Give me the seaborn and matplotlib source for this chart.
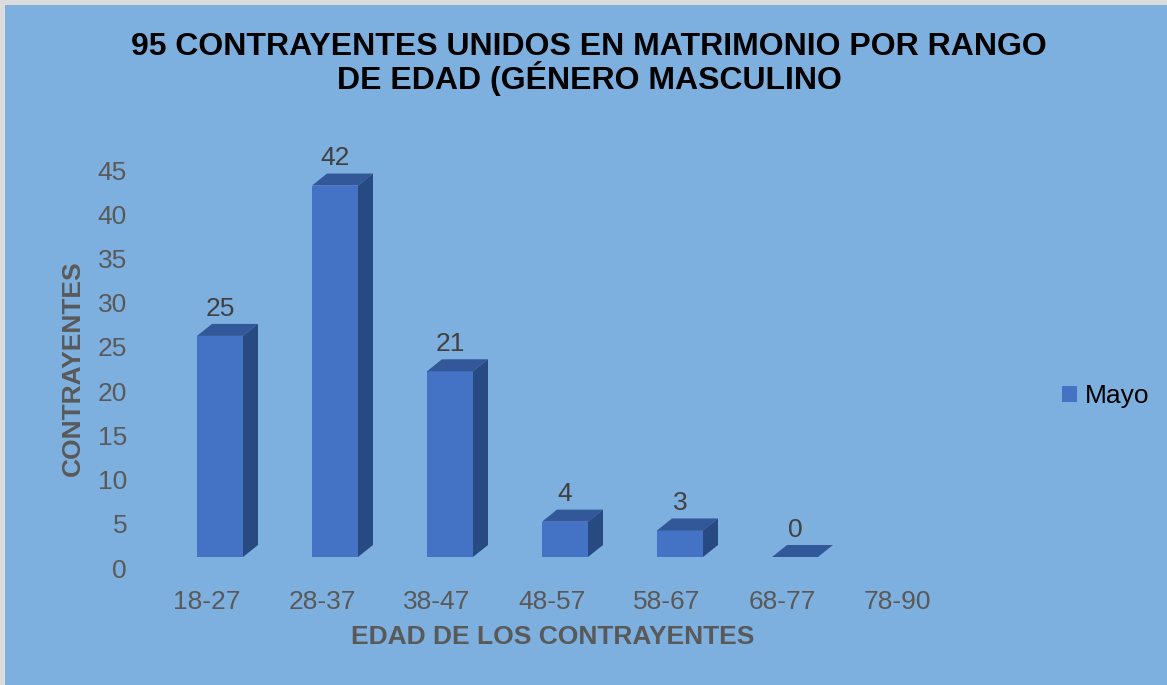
import numpy as np
import pandas as pd
import matplotlib
matplotlib.use("Agg")
import matplotlib.pyplot as plt
import matplotlib.transforms as mtransforms
from matplotlib.patches import Polygon, Rectangle
import seaborn as sns

# =============================================
# Data
rangos = ['18-27', '28-37', '38-47', '48-57', '58-67', '68-77', '78-90']
contrayentes = [25, 42, 21, 4, 3, 0, np.nan]  # 78-90 has no bar
serie = 'Mayo'

titulo = '95 CONTRAYENTES UNIDOS EN MATRIMONIO POR RANGO\nDE EDAD (GÉNERO MASCULINO'
ylabel_txt = 'CONTRAYENTES'
xlabel_txt = 'EDAD DE LOS CONTRAYENTES'
yticks = list(range(0, 50, 5))

# =============================================
# Styling
bg = '#7EB0DF'
front_col = '#4472C4'
top_col = '#33589A'
side_col = '#284A82'
tick_col = '#595959'
lab_col = '#404040'
fontSize = 19

sns.set_theme(style='white')
plt.rcParams['font.family'] = ['Liberation Sans', 'DejaVu Sans']

df = pd.DataFrame({'rango': rangos, 'n': contrayentes, 'mes': serie})

W, H = 1167, 685
fig = plt.figure(figsize=(W / 100, H / 100), dpi=100, facecolor=bg)
ax = fig.add_axes([162.5 / W, (H - 557) / H, 805 / W, 398 / H])
ax.set_facecolor(bg)

sns.barplot(data=df, x='rango', y='n', hue='mes', order=rangos,
            palette=[front_col], width=0.4, dodge=False, errorbar=None,
            saturation=1, ax=ax)

ax.set_xlim(-0.5, len(rangos) - 0.5)
ax.set_ylim(0, 45)
ax.set_yticks(yticks)
sns.despine(ax=ax, left=True, bottom=True)

# 3D look: top and side faces, offset in pixels
inv = ax.transData.inverted()
p0 = inv.transform(ax.transData.transform((0, 0)))
p1 = inv.transform(ax.transData.transform((0, 0)) + np.array([15, 12]))
ddx, ddy = p1 - p0

bars = ax.containers[0]
for r in bars:
    x, w, h = r.get_x(), r.get_width(), r.get_height()
    r.set_edgecolor('none')
    top = Polygon([(x, h), (x + w, h), (x + w + ddx, h + ddy), (x + ddx, h + ddy)],
                  closed=True, facecolor=top_col, edgecolor='none', clip_on=False)
    ax.add_patch(top)
    if h > 0:
        side = Polygon([(x + w, 0), (x + w, h), (x + w + ddx, h + ddy), (x + w + ddx, ddy)],
                       closed=True, facecolor=side_col, edgecolor='none', clip_on=False)
        ax.add_patch(side)

ax.bar_label(bars, padding=11, fontsize=fontSize, color=lab_col)

# tick labels
ax.tick_params(axis='both', length=0, labelsize=fontSize, labelcolor=tick_col)
ax.tick_params(axis='x', pad=23.5)
ax.tick_params(axis='y', pad=25.5)
for lbl in ax.get_xticklabels():
    lbl.set_transform(lbl.get_transform() + mtransforms.ScaledTranslation(-13 / 100, 0, fig.dpi_scale_trans))
for lbl in ax.get_yticklabels():
    lbl.set_transform(lbl.get_transform() + mtransforms.ScaledTranslation(0, -11 / 100, fig.dpi_scale_trans))

# axis titles
ax.set_xlabel(xlabel_txt, fontsize=fontSize, fontweight='bold', color=tick_col)
ax.set_ylabel(ylabel_txt, fontsize=fontSize, fontweight='bold', color=tick_col)
ax.xaxis.set_label_coords((553 - 162.5) / 805, (557 - 637) / 398)
ax.xaxis.label.set_va('center')
ax.yaxis.set_label_coords((73 - 162.5) / 805, (557 - 368) / 398)
ax.yaxis.label.set_va('center')

# title
fig.text(589 / W, 1 - 64 / H, titulo, ha='center', va='center', fontsize=23,
         fontweight='bold', color='black', linespacing=0.95)

# legend
sns.move_legend(ax, loc='center left', bbox_to_anchor=(1062 / W, 1 - 396 / H),
                bbox_transform=fig.transFigure, frameon=False, title=None,
                fontsize=fontSize, handlelength=0.55, handleheight=0.55,
                handletextpad=0.3, borderpad=0, borderaxespad=0)
leg = ax.get_legend()
for hnd in leg.legend_handles:
    hnd.set_edgecolor('none')
for t in leg.get_texts():
    t.set_color('black')

# thin light border on top and left edges
fig.patches.append(Rectangle((0, 1 - 5 / H), 1, 5 / H, transform=fig.transFigure,
                             facecolor='#DCDCDC', edgecolor='none', zorder=10))
fig.patches.append(Rectangle((0, 0), 5 / W, 1, transform=fig.transFigure,
                             facecolor='#DCDCDC', edgecolor='none', zorder=10))

fig.savefig('out.png', dpi=100, facecolor=bg)
